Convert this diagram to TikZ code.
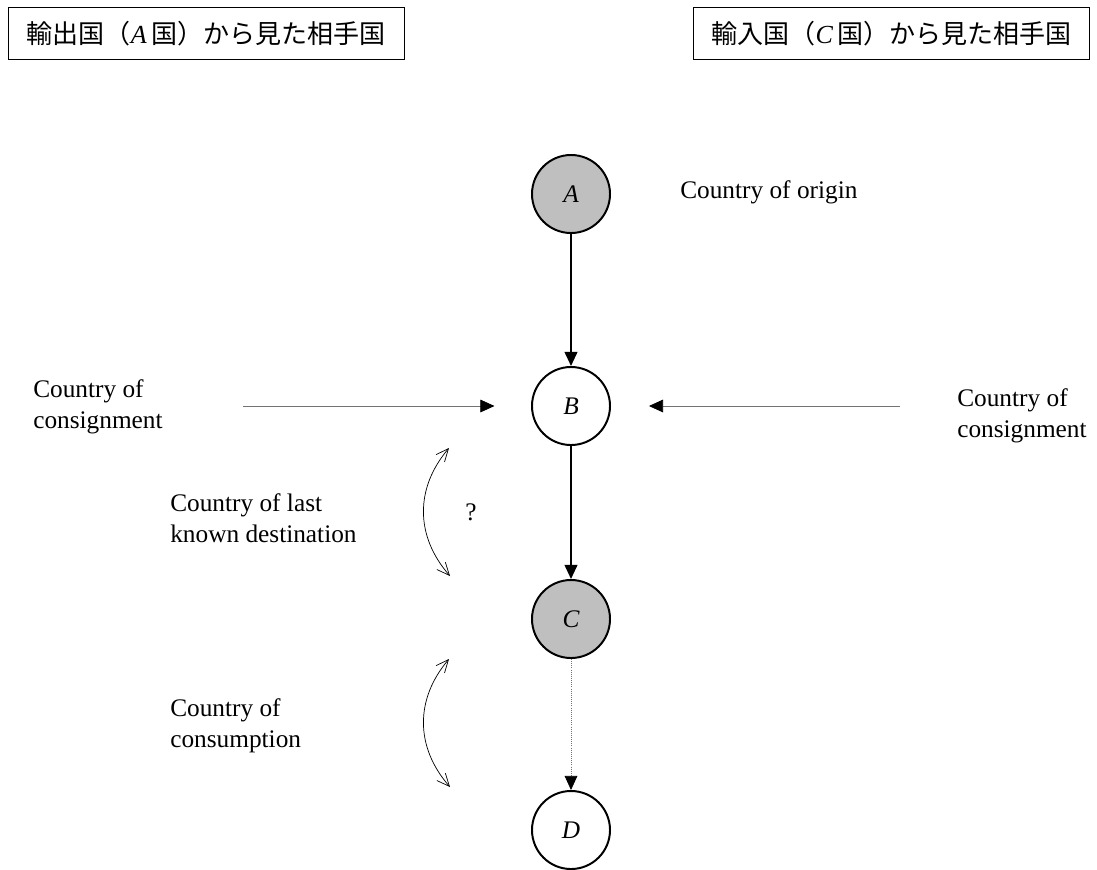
\documentclass[tikz,border=0pt]{standalone}
\usepackage{fontspec}
\setmainfont{Liberation Serif}
\newfontfamily\jfont{Noto Sans CJK JP}
\usepackage{tikz}
\usetikzlibrary{arrows.meta}
\tikzset{
    country/.style={circle, draw, line width=1.4pt, minimum size=1.95cm, inner sep=0pt, font=\fontsize{18}{22}\selectfont\itshape},
    home/.style={country, fill=black!25},
    titlebox/.style={draw, line width=0.6pt, minimum width=9.9cm, minimum height=1.32cm, inner sep=0pt, font=\fontsize{18.5}{22}\selectfont},
    lbl/.style={anchor=west, align=left, inner sep=0pt, font=\fontsize{18}{22}\selectfont},
    flow/.style={line width=1.4pt, -{Triangle[length=10pt,width=9pt]}},
    side/.style={draw=black!55, line width=0.5pt, -{Triangle[length=10pt,width=9pt,black]}},
    swing/.style={line width=0.5pt, {Straight Barb[length=9pt,width=8pt]}-{Straight Barb[length=9pt,width=8pt]}},
}

\begin{document}
\begin{tikzpicture}[x=0.025cm, y=-0.025cm]
    \useasboundingbox (0,0) rectangle (1097,869);
    % headings
    \node[titlebox] (boxA) at (206,33.5) {\jfont 輸出国（\textit{\rmfamily A}\,国）から見た相手国};
    \node[titlebox] (boxC) at (891.5,33.5) {\jfont 輸入国（\textit{\rmfamily C}\,国）から見た相手国};
    % countries
    \node[home] (A) at (571,194) {A};
    \node[country] (B) at (571,406) {B};
    \node[home] (C) at (571,619) {C};
    \node[country] (D) at (571,830) {D};
	% labels
    \node[lbl] (origin) at (680,192) {Country of origin};
    \node[lbl] (consignL) at (33,407) {Country of\\consignment};
    \node[lbl] (consignR) at (957,416) {Country of\\consignment};
    \node[lbl] (lastdest) at (170,518) {Country of last\\known destination};
    \node[lbl] (question) at (465,512) {?};
    \node[lbl] (consumption) at (170,726) {Country of\\consumption};
    \coordinate (inL) at (243,406);
    \coordinate (inR) at (900,406);
    \coordinate (s1) at (449,448);
    \coordinate (e1) at (450,576);
    \coordinate (s2) at (449,659);
    \coordinate (e2) at (450,787);
    \draw[flow] (A) -- (B);
    \draw[flow] (B) -- (C);
    \draw[side, densely dotted] (C) -- (D);
    \draw[side] (inL) -- (B) [shorten >=26pt];
    \draw[side] (inR) -- (B) [shorten >=27pt];
    \draw[swing] (s1) .. controls (415,488) and (415,536) .. (e1);
    \draw[swing] (s2) .. controls (415,699) and (415,747) .. (e2);
\end{tikzpicture}
\end{document}
